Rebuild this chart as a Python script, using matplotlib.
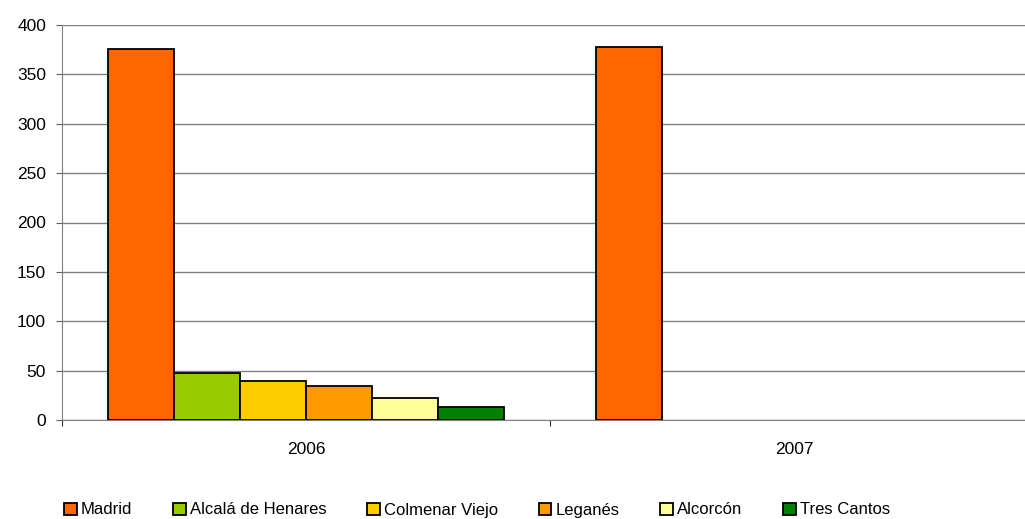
import numpy as np
import matplotlib.pyplot as plt

years = ['2006', '2007']
cities = ['Madrid', 'Alcalá de Henares', 'Colmenar Viejo', 'Leganés', 'Alcorcón', 'Tres Cantos']
values = {
    'Madrid': [376, 378],
    'Alcalá de Henares': [48, np.nan],
    'Colmenar Viejo': [39, np.nan],
    'Leganés': [34, np.nan],
    'Alcorcón': [22, np.nan],
    'Tres Cantos': [13, np.nan],
}
colors = ['#FF6600', '#99CC00', '#FFCC00', '#FF9900', '#FFFF99', '#008000']

plt.rcParams['font.family'] = ['Liberation Sans', 'DejaVu Sans']

fig = plt.figure(figsize=(10.25, 5.19), dpi=100)
ax = fig.add_axes([62 / 1025, 99 / 519, 976 / 1025, 395 / 519])

x = np.arange(len(years))
w = 0.135
for i, c in enumerate(cities):
    ax.bar(x + (i - 2.5) * w, values[c], w, color=colors[i], edgecolor='black',
           linewidth=1.3, label=c, zorder=3)

ax.set_xlim(-0.5, 1.5)
ax.set_ylim(0, 400)
ax.set_yticks(range(0, 401, 50))
ax.yaxis.grid(True, color='#808080', linewidth=1)
ax.set_axisbelow(True)

# category separators as major ticks, year labels as minor ticks
ax.set_xticks([-0.5, 0.5, 1.5])
ax.set_xticklabels([])
ax.set_xticks(x, minor=True)
ax.set_xticklabels(years, minor=True)
ax.tick_params(axis='x', which='minor', length=0, pad=16, labelsize=12.5)
ax.tick_params(axis='x', which='major', length=4.5, color='#303030', direction='out')
ax.tick_params(axis='y', length=4.5, labelsize=12.5, color='#606060', pad=7)

for s in ['top', 'right']:
    ax.spines[s].set_visible(False)
ax.spines['left'].set_color('#808080')
ax.spines['bottom'].set_color('#808080')

fig.legend(loc='center', bbox_to_anchor=(477 / 1025, 1 - 510 / 519), ncol=6,
           frameon=False, fontsize=12, handlelength=0.75, handleheight=0.75,
           handletextpad=0.25, columnspacing=2.45, borderpad=0, borderaxespad=0)

fig.savefig('out.png', dpi=100)
